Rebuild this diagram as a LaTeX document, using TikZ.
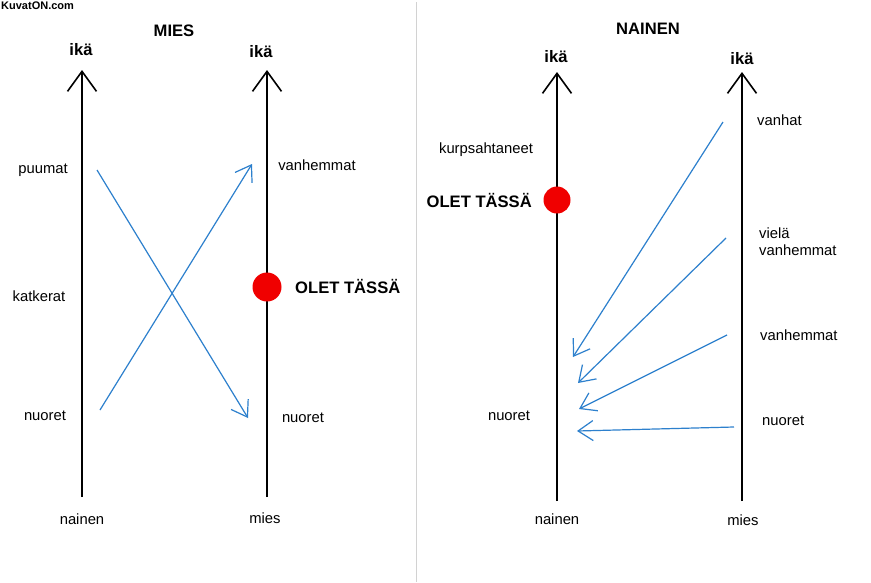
\documentclass[tikz,border=0pt]{standalone}
\usepackage{fontspec}
\setmainfont{Liberation Sans}
\usetikzlibrary{arrows.meta}
\definecolor{nuolisin}{RGB}{45,128,205}
\definecolor{pistepun}{RGB}{240,0,0}
\begin{document}
\begin{tikzpicture}[x=1pt, y=-1pt,
    akseli/.style={line width=1.6pt, -{Straight Barb[length=20pt, width=29pt]}},
    nuoli/.style={draw=nuolisin, line width=1.2pt, -{Straight Barb[length=15pt, width=20pt]}},
    teksti/.style={font=\fontsize{14.8}{17}\selectfont, inner sep=0pt},
    lihava/.style={font=\fontsize{16.6}{18}\selectfont\bfseries, inner sep=0pt}]
    \fill[white] (0,0) rectangle (871,582);
    \useasboundingbox (0,0) rectangle (871,582);
    % vesileima ja jakoviiva
    \node[font=\fontsize{11}{12}\selectfont\bfseries, inner sep=0pt, anchor=west] (leima) at (1,6) {KuvatON.com};
    \draw[gray!35, line width=1pt] (416,2) -- (416,582);

    % MIES
    \node[lihava] (mies) at (174,31) {MIES};
    \coordinate (a1ala) at (82,497);  \coordinate (a1yla) at (82,70);
    \coordinate (a2ala) at (267,497); \coordinate (a2yla) at (267,70);
    \draw[akseli] (a1ala) -- (a1yla);
    \draw[akseli] (a2ala) -- (a2yla);
    \node[lihava] (ika1) at (81,50) {ikä};
    \node[lihava] (ika2) at (261,52) {ikä};
    \node[teksti] (puumat) at (43,170) {puumat};
    \node[teksti] (katkerat) at (39,296) {katkerat};
    \node[teksti] (nuoret1) at (45,416) {nuoret};
    \node[teksti] (nainen1) at (82,519) {nainen};
    \node[teksti] (mies1) at (265,518) {mies};
    \node[teksti] (vanh1) at (317,165) {vanhemmat};
    \node[teksti] (nuoret2) at (303,418) {nuoret};
    \fill[pistepun] (267,287) circle (14.5);
    \node[lihava, anchor=west] (olet1) at (295,286) {OLET TÄSSÄ};
    \coordinate (p1) at (97,170);  \coordinate (p2) at (248,418);
    \coordinate (p3) at (100,410); \coordinate (p4) at (252,164);
    \draw[nuoli] (p1) -- (p2);
    \draw[nuoli] (p3) -- (p4);

    % NAINEN
    \node[lihava] (nainen) at (648,29) {NAINEN};
    \coordinate (a3ala) at (557,501); \coordinate (a3yla) at (557,72);
    \coordinate (a4ala) at (742,501); \coordinate (a4yla) at (742,72);
    \draw[akseli] (a3ala) -- (a3yla);
    \draw[akseli] (a4ala) -- (a4yla);
    \node[lihava] (ika3) at (556,57) {ikä};
    \node[lihava] (ika4) at (742,59) {ikä};
    \node[teksti] (kurps) at (486,150) {kurpsahtaneet};
    \fill[pistepun] (557,200) circle (13.5);
    \node[lihava, anchor=east] (olet2) at (532,200) {OLET TÄSSÄ};
    \node[teksti] (nuoret3) at (509,416) {nuoret};
    \node[teksti] (nainen2) at (557,519) {nainen};
    \node[teksti] (mies2) at (743,520) {mies};
    \node[teksti, anchor=west] (vanhat) at (757,120) {vanhat};
    \node[teksti, anchor=west, align=left] (viela) at (759,242) {vielä\\vanhemmat};
    \node[teksti, anchor=west] (vanh2) at (760,335) {vanhemmat};
    \node[teksti, anchor=west] (nuoret4) at (762,421) {nuoret};
    \coordinate (q1) at (723,122); \coordinate (r1) at (573,357);
    \coordinate (q2) at (726,238); \coordinate (r2) at (578,383);
    \coordinate (q3) at (727,335); \coordinate (r3) at (579,409);
    \coordinate (q4) at (734,427); \coordinate (r4) at (577,431);
    \foreach \i in {1,...,4}
        \draw[nuoli] (q\i) -- (r\i);
\end{tikzpicture}
\end{document}
